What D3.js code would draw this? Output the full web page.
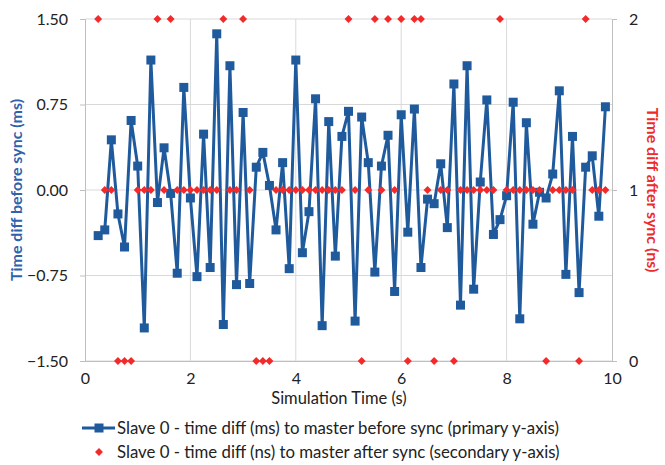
<!DOCTYPE html>
<html>
<head>
<meta charset="utf-8">
<script src="https://cdn.jsdelivr.net/npm/d3@7"></script>
<style>
  body { margin: 0; background: #fff; }
  text { font-family: Lato, "Open Sans", sans-serif; fill: #222; }
</style>
</head>
<body>
<div id="chart"></div>
<script>
// Simulation time (s) of each sample
const simTime = [
  0.25, 0.375, 0.5, 0.625, 0.75, 0.875, 1.0, 1.125, 1.25, 1.375,
  1.5, 1.625, 1.75, 1.875, 2.0, 2.125, 2.25, 2.375, 2.5, 2.625,
  2.75, 2.875, 3.0, 3.125, 3.25, 3.375, 3.5, 3.625, 3.75, 3.875,
  4.0, 4.125, 4.25, 4.375, 4.5, 4.625, 4.75, 4.875, 5.0, 5.125,
  5.25, 5.375, 5.5, 5.625, 5.75, 5.875, 6.0, 6.125, 6.25, 6.375,
  6.5, 6.625, 6.75, 6.875, 7.0, 7.125, 7.25, 7.375, 7.5, 7.625,
  7.75, 7.875, 8.0, 8.125, 8.25, 8.375, 8.5, 8.625, 8.75, 8.875,
  9.0, 9.125, 9.25, 9.375, 9.5, 9.625, 9.75, 9.875
];

// time diff before sync (ms), primary axis
const beforeSync = [
  -0.40, -0.35, 0.44, -0.21, -0.50, 0.61, 0.21, -1.21, 1.14, -0.11,
  0.37, -0.03, -0.73, 0.90, -0.07, -0.76, 0.49, -0.68, 1.37, -1.18,
  1.09, -0.83, 0.68, -0.82, 0.20, 0.33, 0.04, -0.35, 0.24, -0.69,
  1.14, -0.55, -0.19, 0.80, -1.19, 0.60, -0.58, 0.47, 0.69, -1.15,
  0.64, 0.24, -0.72, 0.21, 0.48, -0.89, 0.66, -0.37, 0.71, -0.68,
  -0.08, -0.12, 0.23, -0.33, 0.93, -1.01, 1.09, -0.87, 0.07, 0.79,
  -0.39, -0.26, -0.05, 0.77, -1.13, 0.59, -0.30, -0.02, -0.07, 0.14,
  0.87, -0.74, 0.47, -0.90, 0.20, 0.30, -0.23, 0.73
];

// time diff after sync (ns), secondary axis
const afterSync = [
  2, 1, 1, 0, 0, 0, 1, 1, 1, 2,
  1, 2, 1, 1, 1, 1, 1, 1, 1, 2,
  1, 1, 2, 1, 0, 0, 0, 1, 1, 1,
  1, 1, 1, 1, 1, 1, 1, 1, 2, 1,
  0, 1, 2, 1, 2, 1, 2, 0, 2, 2,
  1, 0, 1, 1, 0, 1, 1, 1, 1, 1,
  1, 2, 1, 1, 1, 1, 1, 1, 0, 1,
  1, 1, 1, 0, 2, 1, 1, 1
];

const xTicks = [0, 2, 4, 6, 8, 10];
const yTicks = [-1.5, -0.75, 0, 0.75, 1.5];
const y2Ticks = [0, 1, 2];

const legendLabels = [
  "Slave 0 - time diff (ms) to master before sync (primary y-axis)",
  "Slave 0 - time diff (ns) to master after sync (secondary y-axis)"
];

const blue = "#1f5a9c";
const red = "#f42a2a";

const W = 665, H = 465;
const margin = { top: 19, right: 53, bottom: 104, left: 85 };
const width = W - margin.left - margin.right,
      height = H - margin.top - margin.bottom;

const svg = d3.select("#chart").append("svg")
  .attr("width", W).attr("height", H);

const g = svg.append("g")
  .attr("transform", `translate(${margin.left},${margin.top})`);

const x = d3.scaleLinear().domain([0, 10]).range([0, width]);
const y = d3.scaleLinear().domain([-1.5, 1.5]).range([height, 0]);
const y2 = d3.scaleLinear().domain([0, 2]).range([height, 0]);

// gridlines
g.append("g")
  .selectAll("line")
  .data(yTicks)
  .join("line")
  .attr("x1", 0).attr("x2", width)
  .attr("y1", d => y(d)).attr("y2", d => y(d))
  .attr("stroke", "#d9d9d9").attr("stroke-width", 1);

g.append("g")
  .selectAll("line")
  .data(xTicks.slice(1, -1))
  .join("line")
  .attr("x1", d => x(d)).attr("x2", d => x(d))
  .attr("y1", 0).attr("y2", height)
  .attr("stroke", "#d9d9d9").attr("stroke-width", 1);

// left axis
const yAxis = g.append("g")
  .call(d3.axisLeft(y).tickValues(yTicks).tickFormat(d3.format(".2f")).tickSize(5).tickPadding(12));
yAxis.select(".domain").attr("stroke", "#bfbfbf");
yAxis.selectAll(".tick line").attr("stroke", "#bfbfbf");
yAxis.selectAll("text").style("font-size", "16px").attr("fill", "#222");

// right axis
const y2Axis = g.append("g")
  .attr("transform", `translate(${width},0)`)
  .call(d3.axisRight(y2).tickValues(y2Ticks).tickFormat(d3.format("d")).tickSize(5).tickPadding(12));
y2Axis.select(".domain").attr("stroke", "#bfbfbf");
y2Axis.selectAll(".tick line").attr("stroke", "#bfbfbf");
y2Axis.selectAll("text").style("font-size", "16px").attr("fill", "#222");

// bottom axis
const xAxis = g.append("g")
  .attr("transform", `translate(0,${height})`)
  .call(d3.axisBottom(x).tickValues(xTicks).tickSize(0).tickPadding(12));
xAxis.select(".domain").attr("stroke", "#bfbfbf");
xAxis.selectAll("text").style("font-size", "16px").attr("fill", "#222");

// series before sync
const pts = simTime.map((t, i) => ({ t, v: beforeSync[i], s: afterSync[i] }));

g.append("path")
  .datum(pts)
  .attr("fill", "none")
  .attr("stroke", blue)
  .attr("stroke-width", 3)
  .attr("stroke-linejoin", "round")
  .attr("d", d3.line().x(d => x(d.t)).y(d => y(d.v)));

g.selectAll("rect.sq")
  .data(pts)
  .join("rect")
  .attr("class", "sq")
  .attr("x", d => x(d.t) - 4.5)
  .attr("y", d => y(d.v) - 4.5)
  .attr("width", 9).attr("height", 9)
  .attr("fill", blue);

// series after sync
const diamond = d3.symbol().type(d3.symbolDiamond2).size(40);
g.selectAll("path.dm")
  .data(pts)
  .join("path")
  .attr("class", "dm")
  .attr("transform", d => `translate(${x(d.t)},${y2(d.s)})`)
  .attr("d", diamond)
  .attr("fill", red);

// axis titles
svg.append("text")
  .attr("transform", `translate(22,${margin.top + height / 2}) rotate(-90)`)
  .attr("text-anchor", "middle")
  .style("font-size", "16px").style("font-weight", "bold")
  .style("fill", "#2f62ad")
  .text("Time diff before sync (ms)");

svg.append("text")
  .attr("transform", `translate(647,${margin.top + height / 2}) rotate(90)`)
  .attr("text-anchor", "middle")
  .style("font-size", "16px").style("font-weight", "bold")
  .style("fill", "#ee2b2b")
  .text("Time diff after sync (ns)");

svg.append("text")
  .attr("x", 339)
  .attr("y", 404)
  .attr("text-anchor", "middle")
  .style("font-size", "16.5px")
  .text("Simulation Time (s)");

// legend
const lg = svg.append("g");
lg.append("line")
  .attr("x1", 82).attr("x2", 115).attr("y1", 428).attr("y2", 428)
  .attr("stroke", blue).attr("stroke-width", 3);
lg.append("rect")
  .attr("x", 94.5).attr("y", 423.5).attr("width", 9).attr("height", 9)
  .attr("fill", blue);
lg.append("path")
  .attr("transform", "translate(99,452)")
  .attr("d", diamond)
  .attr("fill", red);
lg.selectAll("text")
  .data(legendLabels)
  .join("text")
  .attr("x", 117)
  .attr("y", (d, i) => 434 + i * 24)
  .style("font-size", "16.8px")
  .text(d => d);
</script>
</body>
</html>
